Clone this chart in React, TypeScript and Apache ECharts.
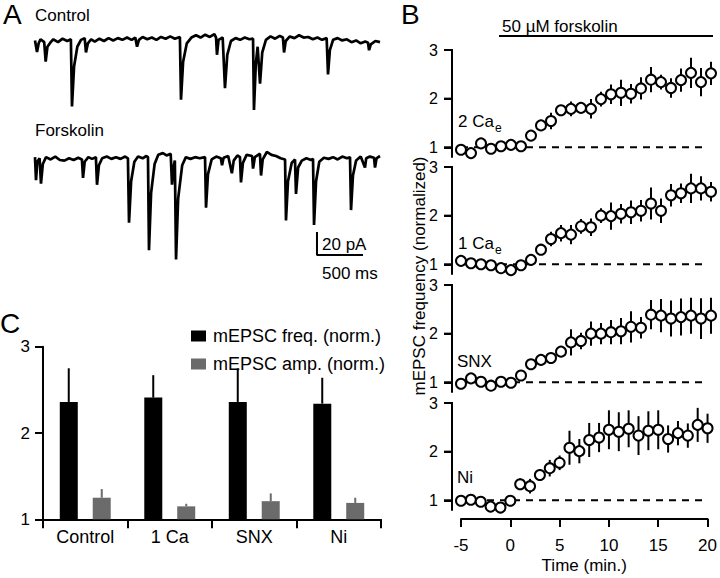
import React, { useEffect, useRef } from 'react';
import * as echarts from 'echarts';

// ---------- Panel A: example traces (time in ms, current in pA) ----------
const controlTrace: [number, number][] = [
  [0,0.5],[22,-9.6],[40,-2],[60,1.5],[100,-1],[116,-18],[135,-5],[170,-1],[200,1.5],[250,-1],[300,2],[350,0],[390,1.5],
  [402,-57],[425,-22],[460,-5],[500,1],[540,2.5],[554,-10],[575,-2],[610,1.5],[650,-0.5],[700,2],[750,0],[800,2.5],
  [850,0.5],[900,2.5],[950,1],[1000,3],[1050,1],[1090,3],[1109,-5],[1130,1],[1170,3.5],[1220,1.5],[1270,3],[1320,1],
  [1370,3.5],[1420,2],[1470,4],[1520,2],[1575,3.5],[1587,-51],[1610,-18],[1650,-2],[1700,3],[1750,5],[1800,3],[1850,5.5],
  [1900,3.5],[1950,6],[1968,3],[1978,-12],[1995,1],[2040,3],[2065,-41],[2090,-12],[2130,0],[2180,2.5],[2230,1],[2280,3],
  [2330,1.5],[2370,2],[2380,-60],[2400,-20],[2420,-5],[2446,-37],[2470,-10],[2510,1],[2560,4],[2610,2],[2660,4.5],
  [2695,3],[2707,-10],[2725,0],[2770,4],[2820,2.5],[2870,5],[2920,3],[2970,3.5],[3020,1.5],[3070,3],[3120,1],[3170,2.5],
  [3185,-29],[3205,-8],[3240,1],[3290,2.5],[3340,0.5],[3390,1.5],[3440,-1],[3490,0.5],[3540,-2],[3590,-0.5],[3620,-1.5],
  [3631,-8],[3650,-3],[3700,0],[3750,-1]
];
const forskolinTrace: [number, number][] = [
  [0,1],[11,-19],[25,-3],[50,0],[65,-22],[85,-5],[120,1],[170,-1],[220,1.5],[270,-1.5],[320,-2],[370,0],[420,-1.5],
  [470,0.5],[510,-1],[522,-17],[540,-3],[580,1],[620,-0.5],[662,1],[674,-23],[695,-6],[730,0],[780,1.5],[830,-0.5],
  [880,1],[930,-0.5],[980,1.5],[1010,0],[1022,-56],[1045,-20],[1080,-3],[1120,1.5],[1170,0],[1210,2],[1228,1],[1239,-80],
  [1262,-30],[1300,-5],[1340,3],[1390,4.5],[1430,2.5],[1475,4],[1489,-23],[1505,-8],[1520,-2],[1533,-88],[1556,-35],
  [1600,-6],[1640,1],[1690,-0.5],[1740,1],[1790,0],[1848,1],[1859,-43],[1880,-14],[1920,-1],[1970,1.5],[2020,0],
  [2033,-6],[2050,0.5],[2100,2],[2140,-13],[2160,-2],[2200,2.5],[2228,1],[2239,-21],[2260,-4],[2300,3],[2360,2],
  [2370,-9],[2390,1],[2445,4],[2457,-15],[2475,-1],[2520,5.5],[2570,3],[2620,2],[2670,0],[2718,-1],[2728,-54],
  [2750,-20],[2790,-4],[2826,-1],[2837,-31],[2860,-8],[2900,-2],[2950,0],[3000,-1.5],[3022,-0.5],[3033,-58],[3055,-20],
  [3090,-3],[3140,0.5],[3190,-0.5],[3240,1],[3290,-1],[3340,1.5],[3390,0],[3424,1],[3435,-45],[3456,-15],[3490,-2],
  [3540,1.5],[3587,-8],[3600,0],[3640,1.5],[3685,0.5],[3696,-8],[3712,0],[3750,2]
];
const scaleBar: [number, number][] = [[3065, -166], [3065, -186], [3565, -186]];
const forskolinOffset = -102;

// ---------- Panel B: normalized mEPSC frequency ----------
const timeMin = [-5,-4,-3,-2,-1,0,1,2,3,4,5,6,7,8,9,10,11,12,13,14,15,16,17,18,19,20];
const ca2Mean = [0.95,0.88,1.08,0.97,1.02,1.05,1.02,1.24,1.45,1.54,1.76,1.79,1.81,1.79,1.99,2.09,2.12,2.10,2.21,2.39,2.34,2.22,2.38,2.53,2.34,2.52];
const ca2Err = [0.04,0.04,0.05,0.04,0.04,0.05,0.05,0.08,0.1,0.17,0.1,0.15,0.1,0.2,0.15,0.2,0.27,0.2,0.23,0.26,0.15,0.2,0.24,0.31,0.29,0.24];
const ca1Mean = [1.07,1.02,1.0,0.98,0.92,0.88,0.98,1.09,1.3,1.52,1.64,1.61,1.78,1.76,2.0,1.99,2.04,2.07,2.1,2.25,2.1,2.42,2.46,2.56,2.56,2.49];
const ca1Err = [0.04,0.03,0.03,0.03,0.04,0.04,0.04,0.05,0.08,0.15,0.17,0.2,0.15,0.18,0.15,0.28,0.2,0.24,0.22,0.33,0.25,0.23,0.2,0.3,0.25,0.2];
const snxMean = [0.97,1.08,1.01,0.93,1.01,0.99,1.14,1.37,1.46,1.5,1.63,1.82,1.85,2.0,2.0,2.03,2.05,2.14,2.12,2.39,2.37,2.31,2.34,2.37,2.31,2.37];
const snxErr = [0.03,0.04,0.03,0.04,0.05,0.04,0.06,0.07,0.1,0.08,0.1,0.27,0.17,0.25,0.22,0.25,0.27,0.32,0.22,0.3,0.34,0.37,0.38,0.37,0.42,0.37];
const niMean = [0.99,1.01,0.97,0.87,0.85,0.99,1.33,1.29,1.52,1.66,1.77,2.08,2.01,2.24,2.29,2.45,2.41,2.47,2.33,2.43,2.45,2.26,2.38,2.33,2.55,2.48];
const niErr = [0.04,0.06,0.04,0.04,0.04,0.04,0.12,0.15,0.12,0.17,0.15,0.35,0.25,0.35,0.3,0.4,0.4,0.38,0.4,0.4,0.4,0.28,0.25,0.25,0.35,0.3];
const timeTicks = [-5, 0, 5, 10, 15, 20];
const freqTicks = [1, 2, 3];
const freqMin = 0.8;
const freqMax = 3;

// ---------- Panel C: summary bars ----------
const conditions = ['Control', '1 Ca', 'SNX', 'Ni'];
const freqMean = [2.36, 2.41, 2.36, 2.34];
const freqErr = [0.39, 0.26, 0.39, 0.30];
const ampMean = [1.25, 1.15, 1.21, 1.19];
const ampErr = [0.10, 0.03, 0.09, 0.06];

const FONT = '"Liberation Sans", Arial, Helvetica, sans-serif';
const GRAY = '#6b6b6b';
const B_LEFT = 461;
const B_HEIGHT = 107;
const Y_OFFSET = 9;

function txt(text: string, x: number, y: number, size: number, align = 'left', extra: any = {}) {
  return {
    type: 'text',
    x, y,
    ...extra,
    style: {
      text,
      fill: '#000',
      font: `${size}px ${FONT}`,
      align, textAlign: align,
      verticalAlign: 'middle', textVerticalAlign: 'middle',
    },
  };
}

export default function App() {
  const ref = useRef<HTMLDivElement>(null);
  useEffect(() => {
    if (!ref.current) return;
    const chart = echarts.init(ref.current, undefined, { renderer: 'svg' });

    const panelB = [
      { mean: ca2Mean, err: ca2Err, top: 50 },
      { mean: ca1Mean, err: ca1Err, top: 167 },
      { mean: snxMean, err: snxErr, top: 285 },
      { mean: niMean, err: niErr, top: 403 },
    ];

    const traceStyle = { color: '#000', width: 2.7 };
    const grids: any[] = [{ left: 35, top: 29.5, width: 345, height: 287.5 }];
    const xAxes: any[] = [{ gridIndex: 0, type: 'value', min: 0, max: 3750, show: false }];
    const yAxes: any[] = [{ gridIndex: 0, type: 'value', min: -240, max: 10, show: false }];
    const series: any[] = [
      { type: 'line', clip: false, xAxisIndex: 0, yAxisIndex: 0, data: controlTrace, showSymbol: false, lineStyle: traceStyle },
      { type: 'line', clip: false, xAxisIndex: 0, yAxisIndex: 0, data: forskolinTrace.map(([t, v]) => [t, v + forskolinOffset]), showSymbol: false, lineStyle: traceStyle },
      { type: 'line', clip: false, xAxisIndex: 0, yAxisIndex: 0, data: scaleBar, showSymbol: false, lineStyle: { color: '#000', width: 2 } },
    ];

    panelB.forEach((p, i) => {
      const gi = i + 1;
      grids.push({ left: B_LEFT, width: 250, top: p.top, height: B_HEIGHT });
      const isLast = i === panelB.length - 1;
      xAxes.push({
        gridIndex: gi, type: 'value', min: -5, max: 20, interval: 5,
        show: isLast, offset: 9,
        axisLine: { show: true, onZero: false, lineStyle: { color: '#000', width: 2 } },
        axisTick: { show: true, length: 8, lineStyle: { color: '#000', width: 2 } },
        axisLabel: { color: '#000', fontSize: 17, fontFamily: FONT, margin: 18, customValues: timeTicks },
        splitLine: { show: false },
        name: isLast ? 'Time (min.)' : '', nameLocation: 'middle', nameGap: 38,
        nameTextStyle: { color: '#000', fontSize: 17, fontFamily: FONT },
      });
      yAxes.push({
        gridIndex: gi, type: 'value', min: freqMin, max: freqMax, offset: Y_OFFSET,
        axisLine: { show: true, onZero: false, lineStyle: { color: '#000', width: 2 } },
        axisTick: { show: true, length: 8, customValues: freqTicks, lineStyle: { color: '#000', width: 2 } },
        axisLabel: { color: '#000', fontSize: 16, fontFamily: FONT, margin: 14, customValues: freqTicks },
        splitLine: { show: false },
      });
      series.push({
        type: 'line', clip: false, xAxisIndex: gi, yAxisIndex: gi, data: [[-5, 1], [19.7, 1]],
        showSymbol: false, silent: true, z: 1,
        lineStyle: { color: '#000', width: 2, type: [7, 6] },
      });
      series.push({
        type: 'custom', clip: false, xAxisIndex: gi, yAxisIndex: gi, z: 2,
        data: timeMin.map((t, k) => [t, p.mean[k], p.err[k]]),
        encode: { x: 0, y: 1 },
        renderItem: (params: any, api: any) => {
          const x = api.value(0), y = api.value(1), e = api.value(2);
          const a = api.coord([x, y - e]);
          const b = api.coord([x, y + e]);
          return { type: 'line', shape: { x1: a[0], y1: a[1], x2: b[0], y2: b[1] }, style: { stroke: '#000', lineWidth: 2 } };
        },
      });
      series.push({
        type: 'scatter', clip: false, xAxisIndex: gi, yAxisIndex: gi, z: 3,
        data: timeMin.map((t, k) => [t, p.mean[k]]),
        symbol: 'circle', symbolSize: 10,
        itemStyle: { color: '#fff', borderColor: '#000', borderWidth: 2, opacity: 1 },
      });
    });

    // Panel C
    const cg = grids.length;
    grids.push({ left: 43, top: 346.7, width: 338, height: 172.6 });
    xAxes.push({
      gridIndex: cg, type: 'category', data: conditions,
      axisLine: { show: true, onZero: false, lineStyle: { color: '#000', width: 2 } },
      axisTick: { show: true, length: 9, lineStyle: { color: '#000', width: 2 } },
      axisLabel: { color: '#000', fontSize: 18, fontFamily: FONT, margin: 9 },
    });
    yAxes.push({
      gridIndex: cg, type: 'value', min: 1, max: 3, interval: 1,
      axisLine: { show: true, onZero: false, lineStyle: { color: '#000', width: 2 } },
      axisTick: { show: true, length: 8, lineStyle: { color: '#000', width: 2 } },
      axisLabel: { color: '#000', fontSize: 17, fontFamily: FONT, margin: 13 },
      splitLine: { show: false },
    });
    const errSeries = (mean: number[], err: number[], shift: number, color: string, name: string) => ({
      type: 'custom', clip: false, name: name + ' err', xAxisIndex: cg, yAxisIndex: cg, z: 1,
      data: conditions.map((c, i) => [i, mean[i], err[i]]),
      encode: { x: 0, y: 1 },
      renderItem: (params: any, api: any) => {
        const i = api.value(0), v = api.value(1), e = api.value(2);
        const a = api.coord([i, v]);
        const b = api.coord([i, v + e]);
        return { type: 'line', shape: { x1: a[0] + shift, y1: a[1], x2: b[0] + shift, y2: b[1] }, style: { stroke: color, lineWidth: 2 } };
      },
    });
    series.push({
      type: 'bar', name: 'mEPSC freq. (norm.)', xAxisIndex: cg, yAxisIndex: cg,
      data: freqMean, barWidth: 18, barGap: '83%', itemStyle: { color: '#000' }, z: 2,
    });
    series.push({
      type: 'bar', name: 'mEPSC amp. (norm.)', xAxisIndex: cg, yAxisIndex: cg,
      data: ampMean, barWidth: 18, barGap: '83%', itemStyle: { color: GRAY }, z: 2,
    });
    series.push(errSeries(freqMean, freqErr, -16.5, '#000', 'freq'));
    series.push(errSeries(ampMean, ampErr, 16.5, GRAY, 'amp'));

    const graphics: any[] = [
      txt('A', 3, 14, 28),
      txt('Control', 35, 15, 17),
      txt('Forskolin', 35, 130, 17),
      txt('20 pA', 322, 244, 17),
      txt('500 ms', 322, 273, 17),
      txt('B', 401, 14, 28),
      txt('50 µM forskolin', 502, 26, 17),
      { type: 'line', shape: { x1: 499, y1: 36, x2: 713, y2: 36 }, style: { stroke: '#000', lineWidth: 2 } },
      txt('2 Ca', 458, 121, 17),
      txt('e', 495, 128, 12),
      txt('1 Ca', 458, 243, 17),
      txt('e', 495, 250, 12),
      txt('SNX', 457, 361, 17),
      txt('Ni', 457, 477, 17),
      txt('mEPSC frequency (normalized)', 419, 276, 17, 'center', { rotation: Math.PI / 2 }),
      txt('C', 0, 323, 28),
    ];

    const option: any = {
      animation: false,
      textStyle: { fontFamily: FONT, color: '#000' },
      grid: grids,
      xAxis: xAxes,
      yAxis: yAxes,
      series,
      legend: {
        data: ['mEPSC freq. (norm.)', 'mEPSC amp. (norm.)'],
        orient: 'vertical', left: 186, top: 322,
        itemWidth: 15, itemHeight: 11, itemGap: 10, icon: 'rect',
        textStyle: { fontSize: 18, color: '#000', fontFamily: FONT, padding: [0, 0, 0, 2] },
        selectedMode: false,
      },
      graphic: graphics,
    };
    chart.setOption(option);

    // Panel B y-axis lines and ticks as plain graphic lines, placed from each grid's scale
    const axisGraphics: any[] = [];
    panelB.forEach((p, i) => {
      const gi = i + 1;
      const toPx = (v: number): number[] => {
        let r: any = null;
        try { r = chart.convertToPixel({ gridIndex: gi }, [-5, v]); } catch (e) { r = null; }
        if (!r || !isFinite(r[0]) || !isFinite(r[1])) {
          r = [B_LEFT, p.top + ((freqMax - v) / (freqMax - freqMin)) * B_HEIGHT];
        }
        return r;
      };
      const lo = toPx(freqMin);
      const hi = toPx(freqMax);
      const x = lo[0] - Y_OFFSET;
      axisGraphics.push({ type: 'line', shape: { x1: x, y1: lo[1], x2: x, y2: hi[1] - 1 }, style: { stroke: '#000', lineWidth: 2 } });
      freqTicks.forEach((v) => {
        const c = toPx(v);
        axisGraphics.push({ type: 'line', shape: { x1: x - 8, y1: c[1], x2: x + 1, y2: c[1] }, style: { stroke: '#000', lineWidth: 2 } });
      });
    });
    chart.setOption({ graphic: [...graphics, ...axisGraphics] });

    return () => chart.dispose();
  }, []);
  return <div ref={ref} style={{ width: 720, height: 578, position: 'absolute', left: 0, top: 0, background: '#fff' }} />;
}
